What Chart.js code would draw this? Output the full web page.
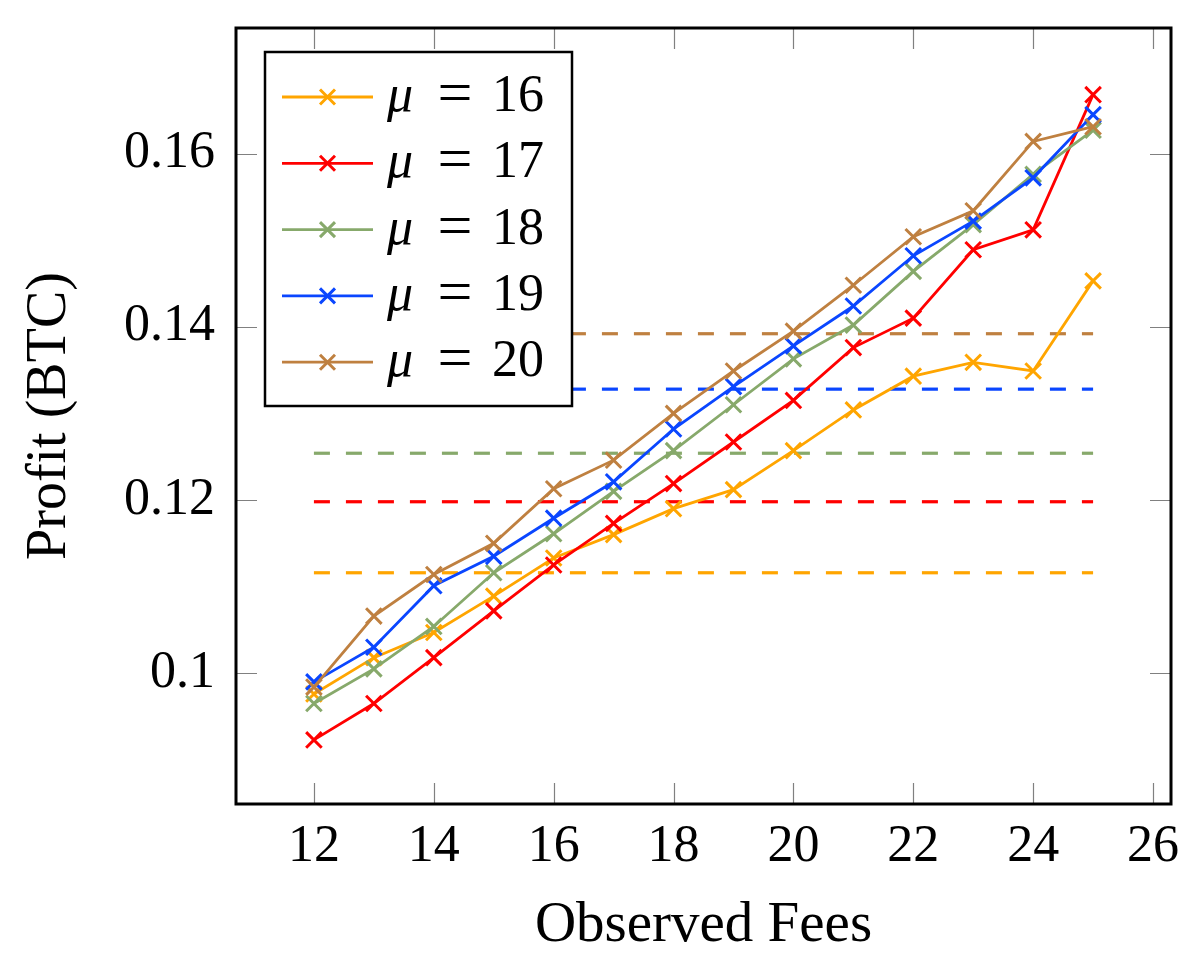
<!DOCTYPE html>
<html>
<head>
<meta charset="utf-8">
<script src="https://cdn.jsdelivr.net/npm/chart.js@4/dist/chart.umd.min.js"></script>
<style>
html,body{margin:0;padding:0;background:#ffffff;}
#wrap{width:1200px;height:969px;}
</style>
</head>
<body>
<div id="wrap"><canvas id="c" width="1200" height="969"></canvas></div>
<script>
// ---- data ----
const fees = [12, 13, 14, 15, 16, 17, 18, 19, 20, 21, 22, 23, 24, 25];
const muValues = [16, 17, 18, 19, 20];
const profitMu16 = [0.0976, 0.1018, 0.1047, 0.1089, 0.1133, 0.1160, 0.1190, 0.1212, 0.1257, 0.1304, 0.1343, 0.1359, 0.1349, 0.1453];
const profitMu17 = [0.0923, 0.0965, 0.1018, 0.1072, 0.1125, 0.1173, 0.1219, 0.1267, 0.1315, 0.1376, 0.1410, 0.1489, 0.1512, 0.1668];
const profitMu18 = [0.0965, 0.1005, 0.1054, 0.1116, 0.1161, 0.1210, 0.1257, 0.1310, 0.1363, 0.1402, 0.1464, 0.1518, 0.1576, 0.1627];
const profitMu19 = [0.0990, 0.1030, 0.1101, 0.1135, 0.1179, 0.1221, 0.1282, 0.1331, 0.1378, 0.1424, 0.1482, 0.1522, 0.1572, 0.1645];
const profitMu20 = [0.0984, 0.1066, 0.1114, 0.1150, 0.1213, 0.1246, 0.1300, 0.1349, 0.1395, 0.1448, 0.1504, 0.1534, 0.1614, 0.1631];
const baselines = [0.1116, 0.1198, 0.1254, 0.1328, 0.1392];
const xTicks = [12, 14, 16, 18, 20, 22, 24, 26];
const yTicks = [0.10, 0.12, 0.14, 0.16];
const seriesColors = ['#FFA500', '#FF0000', '#87A96B', '#0A46FF', '#BF8040'];

const profits = [profitMu16, profitMu17, profitMu18, profitMu19, profitMu20];
const FONT = "'Liberation Serif', 'Times New Roman', serif";

const datasets = [];
profits.forEach((arr, i) => {
  datasets.push({
    label: '\u03bc = ' + muValues[i],
    isSeries: true,
    data: fees.map((f, k) => ({x: f, y: arr[k]})),
    borderColor: seriesColors[i],
    backgroundColor: seriesColors[i],
    borderWidth: 2.8,
    pointStyle: 'crossRot',
    pointRadius: 11,
    pointBorderWidth: 3,
    pointBorderColor: seriesColors[i],
    tension: 0,
    fill: false,
    order: 10 - i
  });
});
baselines.forEach((b, i) => {
  datasets.push({
    label: 'baseline ' + muValues[i],
    isSeries: false,
    data: [{x: fees[0], y: b}, {x: fees[fees.length - 1], y: b}],
    borderColor: seriesColors[i],
    borderWidth: 3.2,
    borderDash: [16, 16],
    borderCapStyle: 'butt',
    pointRadius: 0,
    fill: false,
    order: 20
  });
});

const frameAndTicks = {
  id: 'frameAndTicks',
  afterDatasetsDraw(chart) {
    const {ctx, chartArea: a, scales: {x, y}} = chart;
    ctx.save();
    ctx.strokeStyle = '#808080';
    ctx.lineWidth = 1.2;
    const L = 21;
    ctx.beginPath();
    xTicks.forEach(v => {
      const px = Math.round(x.getPixelForValue(v)) + 0.5;
      ctx.moveTo(px, a.bottom); ctx.lineTo(px, a.bottom - L);
      ctx.moveTo(px, a.top); ctx.lineTo(px, a.top + L);
    });
    yTicks.forEach(v => {
      const py = Math.round(y.getPixelForValue(v)) + 0.5;
      ctx.moveTo(a.left, py); ctx.lineTo(a.left + L, py);
      ctx.moveTo(a.right, py); ctx.lineTo(a.right - L, py);
    });
    ctx.stroke();
    ctx.strokeStyle = '#000000';
    ctx.lineWidth = 3;
    ctx.strokeRect(a.left, a.top, a.right - a.left, a.bottom - a.top);
    ctx.restore();
  },
  afterDraw(chart) {
    const {ctx, chartArea: a} = chart;
    const bx = a.left + 29, by = a.top + 24, bw = 307, bh = 354;
    ctx.save();
    ctx.fillStyle = '#ffffff';
    ctx.fillRect(bx, by, bw, bh);
    ctx.strokeStyle = '#000000';
    ctx.lineWidth = 2.5;
    ctx.strokeRect(bx, by, bw, bh);
    const rowGap = 66.3;
    let row = 0;
    chart.data.datasets.forEach(ds => {
      if (!ds.isSeries) return;
      const cy = by + 45 + row * rowGap;
      const x0 = bx + 17, x1 = bx + 108, xm = (x0 + x1) / 2;
      ctx.strokeStyle = ds.borderColor;
      ctx.lineWidth = 2.8;
      ctx.beginPath(); ctx.moveTo(x0, cy); ctx.lineTo(x1, cy); ctx.stroke();
      ctx.lineWidth = 3;
      const d = 7.5;
      ctx.beginPath();
      ctx.moveTo(xm - d, cy - d); ctx.lineTo(xm + d, cy + d);
      ctx.moveTo(xm - d, cy + d); ctx.lineTo(xm + d, cy - d);
      ctx.stroke();
      const parts = ds.label.split(' = ');
      ctx.fillStyle = '#000000';
      ctx.textBaseline = 'alphabetic';
      ctx.textAlign = 'left';
      ctx.font = 'italic 52px ' + FONT;
      ctx.fillText(parts[0], bx + 122, cy + 14);
      ctx.font = '62px ' + FONT;
      ctx.textAlign = 'center';
      ctx.fillText('=', bx + 190, cy + 16);
      ctx.font = '52px ' + FONT;
      ctx.textAlign = 'left';
      ctx.fillText(parts[1], bx + 227, cy + 14);
      row++;
    });
    ctx.restore();
  }
};

new Chart(document.getElementById('c'), {
  type: 'line',
  data: {datasets},
  plugins: [frameAndTicks],
  options: {
    responsive: false,
    animation: false,
    devicePixelRatio: 1,
    layout: {padding: {top: 28, right: 29, left: 0, bottom: 0}},
    plugins: {legend: {display: false}, tooltip: {enabled: false}},
    scales: {
      x: {
        type: 'linear',
        min: 10.7,
        max: 26.3,
        afterBuildTicks: s => { s.ticks = xTicks.map(v => ({value: v})); },
        afterFit: s => { s.height = 165; s.paddingLeft = 0; s.paddingRight = 0; },
        grid: {display: false, drawTicks: false, tickLength: 0},
        border: {display: false},
        ticks: {color: '#000', padding: 12, maxRotation: 0, autoSkip: false,
                font: {family: FONT, size: 52}, callback: v => String(v)},
        title: {display: true, text: 'Observed Fees', color: '#000',
                font: {family: FONT, size: 57}, padding: {top: 0, bottom: 9}}
      },
      y: {
        type: 'linear',
        min: 0.0849,
        max: 0.1745,
        afterBuildTicks: s => { s.ticks = yTicks.map(v => ({value: v})); },
        afterFit: s => { s.width = 236; s.paddingTop = 0; s.paddingBottom = 0; },
        grid: {display: false, drawTicks: false, tickLength: 0},
        border: {display: false},
        ticks: {color: '#000', padding: 21, autoSkip: false,
                font: {family: FONT, size: 52},
                callback: v => String(Number(v.toFixed(4)))},
        title: {display: true, text: 'Profit (BTC)', color: '#000',
                font: {family: FONT, size: 56}, padding: {top: 17, bottom: 0}}
      }
    }
  }
});
</script>
</body>
</html>
